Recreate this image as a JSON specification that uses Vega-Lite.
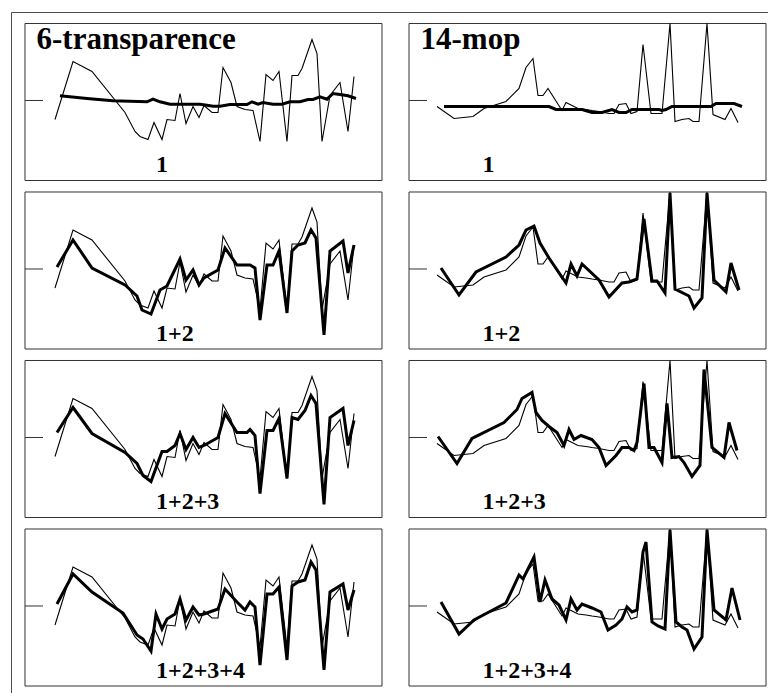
{
  "$schema": "https://vega.github.io/schema/vega-lite/v6.json",
  "width": 757,
  "height": 681,
  "autosize": {"type": "none"},
  "padding": {"left": 11, "top": 12, "right": 0, "bottom": 0},
  "background": "white",
  "config": {
    "view": {"stroke": null},
    "axis": {"labels": false, "ticks": false, "grid": false, "domainColor": "#4d4d4d", "domainWidth": 1}
  },
  "datasets": {
    "panels": [
      {"col": "6-transparence", "row": "1"},
      {"col": "6-transparence", "row": "1+2"},
      {"col": "6-transparence", "row": "1+2+3"},
      {"col": "6-transparence", "row": "1+2+3+4"},
      {"col": "14-mop", "row": "1"},
      {"col": "14-mop", "row": "1+2"},
      {"col": "14-mop", "row": "1+2+3"},
      {"col": "14-mop", "row": "1+2+3+4"}
    ],
    "thin": [
      {"col": "6-transparence", "x": 30, "v": -19},
      {"col": "6-transparence", "x": 48, "v": 39},
      {"col": "6-transparence", "x": 67, "v": 29},
      {"col": "6-transparence", "x": 100, "v": -12},
      {"col": "6-transparence", "x": 110, "v": -31},
      {"col": "6-transparence", "x": 115, "v": -36},
      {"col": "6-transparence", "x": 123, "v": -39},
      {"col": "6-transparence", "x": 129, "v": -22},
      {"col": "6-transparence", "x": 137, "v": -39},
      {"col": "6-transparence", "x": 142, "v": -19},
      {"col": "6-transparence", "x": 150, "v": -20},
      {"col": "6-transparence", "x": 155, "v": 7},
      {"col": "6-transparence", "x": 161, "v": -23},
      {"col": "6-transparence", "x": 168, "v": -6},
      {"col": "6-transparence", "x": 174, "v": -17},
      {"col": "6-transparence", "x": 179, "v": -5},
      {"col": "6-transparence", "x": 187, "v": -12},
      {"col": "6-transparence", "x": 193, "v": -12},
      {"col": "6-transparence", "x": 198, "v": 33},
      {"col": "6-transparence", "x": 206, "v": 18},
      {"col": "6-transparence", "x": 212, "v": -6},
      {"col": "6-transparence", "x": 220, "v": -9},
      {"col": "6-transparence", "x": 228, "v": -10},
      {"col": "6-transparence", "x": 235, "v": -41},
      {"col": "6-transparence", "x": 241, "v": 26},
      {"col": "6-transparence", "x": 248, "v": 20},
      {"col": "6-transparence", "x": 254, "v": 29},
      {"col": "6-transparence", "x": 262, "v": -41},
      {"col": "6-transparence", "x": 267, "v": 25},
      {"col": "6-transparence", "x": 273, "v": 25},
      {"col": "6-transparence", "x": 277, "v": 32},
      {"col": "6-transparence", "x": 287, "v": 61},
      {"col": "6-transparence", "x": 292, "v": 47},
      {"col": "6-transparence", "x": 297, "v": -41},
      {"col": "6-transparence", "x": 305, "v": 5},
      {"col": "6-transparence", "x": 315, "v": 18},
      {"col": "6-transparence", "x": 323, "v": -31},
      {"col": "6-transparence", "x": 329, "v": 24},
      {"col": "14-mop", "x": 28, "v": -6},
      {"col": "14-mop", "x": 45, "v": -18},
      {"col": "14-mop", "x": 64, "v": -16},
      {"col": "14-mop", "x": 75, "v": -8},
      {"col": "14-mop", "x": 97, "v": -1},
      {"col": "14-mop", "x": 110, "v": 12},
      {"col": "14-mop", "x": 117, "v": 33},
      {"col": "14-mop", "x": 124, "v": 42},
      {"col": "14-mop", "x": 129, "v": 5},
      {"col": "14-mop", "x": 134, "v": 5},
      {"col": "14-mop", "x": 139, "v": 12},
      {"col": "14-mop", "x": 153, "v": -10},
      {"col": "14-mop", "x": 157, "v": -2},
      {"col": "14-mop", "x": 169, "v": -8},
      {"col": "14-mop", "x": 177, "v": -9},
      {"col": "14-mop", "x": 183, "v": -10},
      {"col": "14-mop", "x": 190, "v": -11},
      {"col": "14-mop", "x": 200, "v": -13},
      {"col": "14-mop", "x": 205, "v": -13},
      {"col": "14-mop", "x": 210, "v": -4},
      {"col": "14-mop", "x": 217, "v": -3},
      {"col": "14-mop", "x": 222, "v": -13},
      {"col": "14-mop", "x": 228, "v": -11},
      {"col": "14-mop", "x": 234, "v": 56},
      {"col": "14-mop", "x": 242, "v": -13},
      {"col": "14-mop", "x": 253, "v": -13},
      {"col": "14-mop", "x": 261, "v": 77},
      {"col": "14-mop", "x": 266, "v": -21},
      {"col": "14-mop", "x": 273, "v": -19},
      {"col": "14-mop", "x": 280, "v": -18},
      {"col": "14-mop", "x": 284, "v": -21},
      {"col": "14-mop", "x": 290, "v": -21},
      {"col": "14-mop", "x": 298, "v": 77},
      {"col": "14-mop", "x": 304, "v": -14},
      {"col": "14-mop", "x": 316, "v": -19},
      {"col": "14-mop", "x": 322, "v": -8},
      {"col": "14-mop", "x": 329, "v": -22}
    ],
    "thick": [
      {"col": "6-transparence", "row": "1", "x": 35, "v": 4.7},
      {"col": "6-transparence", "row": "1", "x": 62, "v": 2},
      {"col": "6-transparence", "row": "1", "x": 88, "v": -0.3},
      {"col": "6-transparence", "row": "1", "x": 122, "v": -1.3},
      {"col": "6-transparence", "row": "1", "x": 128, "v": 1.3},
      {"col": "6-transparence", "row": "1", "x": 135, "v": -1.3},
      {"col": "6-transparence", "row": "1", "x": 145, "v": -3.7},
      {"col": "6-transparence", "row": "1", "x": 162, "v": -3.7},
      {"col": "6-transparence", "row": "1", "x": 175, "v": -3.7},
      {"col": "6-transparence", "row": "1", "x": 182, "v": -4.7},
      {"col": "6-transparence", "row": "1", "x": 188, "v": -5.7},
      {"col": "6-transparence", "row": "1", "x": 195, "v": -5.7},
      {"col": "6-transparence", "row": "1", "x": 205, "v": -4},
      {"col": "6-transparence", "row": "1", "x": 222, "v": -4},
      {"col": "6-transparence", "row": "1", "x": 227, "v": -1.3},
      {"col": "6-transparence", "row": "1", "x": 233, "v": -3.7},
      {"col": "6-transparence", "row": "1", "x": 238, "v": -2},
      {"col": "6-transparence", "row": "1", "x": 248, "v": -3.7},
      {"col": "6-transparence", "row": "1", "x": 257, "v": -3.7},
      {"col": "6-transparence", "row": "1", "x": 265, "v": -1.3},
      {"col": "6-transparence", "row": "1", "x": 275, "v": -1.3},
      {"col": "6-transparence", "row": "1", "x": 283, "v": 1},
      {"col": "6-transparence", "row": "1", "x": 288, "v": 1},
      {"col": "6-transparence", "row": "1", "x": 295, "v": 3.7},
      {"col": "6-transparence", "row": "1", "x": 302, "v": 1.3},
      {"col": "6-transparence", "row": "1", "x": 308, "v": 7},
      {"col": "6-transparence", "row": "1", "x": 315, "v": 6},
      {"col": "6-transparence", "row": "1", "x": 323, "v": 4.7},
      {"col": "6-transparence", "row": "1", "x": 331, "v": 2},

      {"col": "6-transparence", "row": "1+2", "x": 32, "v": 2},
      {"col": "6-transparence", "row": "1+2", "x": 48, "v": 29},
      {"col": "6-transparence", "row": "1+2", "x": 67, "v": 1},
      {"col": "6-transparence", "row": "1+2", "x": 100, "v": -16},
      {"col": "6-transparence", "row": "1+2", "x": 112, "v": -27},
      {"col": "6-transparence", "row": "1+2", "x": 117, "v": -41},
      {"col": "6-transparence", "row": "1+2", "x": 126, "v": -45},
      {"col": "6-transparence", "row": "1+2", "x": 135, "v": -21},
      {"col": "6-transparence", "row": "1+2", "x": 142, "v": -17},
      {"col": "6-transparence", "row": "1+2", "x": 155, "v": 10},
      {"col": "6-transparence", "row": "1+2", "x": 161, "v": -11},
      {"col": "6-transparence", "row": "1+2", "x": 168, "v": -1},
      {"col": "6-transparence", "row": "1+2", "x": 174, "v": -16},
      {"col": "6-transparence", "row": "1+2", "x": 179, "v": -9},
      {"col": "6-transparence", "row": "1+2", "x": 193, "v": -1},
      {"col": "6-transparence", "row": "1+2", "x": 200, "v": 21},
      {"col": "6-transparence", "row": "1+2", "x": 212, "v": 4},
      {"col": "6-transparence", "row": "1+2", "x": 225, "v": 4},
      {"col": "6-transparence", "row": "1+2", "x": 230, "v": 1},
      {"col": "6-transparence", "row": "1+2", "x": 235, "v": -51},
      {"col": "6-transparence", "row": "1+2", "x": 242, "v": 4},
      {"col": "6-transparence", "row": "1+2", "x": 248, "v": 4},
      {"col": "6-transparence", "row": "1+2", "x": 254, "v": 18},
      {"col": "6-transparence", "row": "1+2", "x": 262, "v": -44},
      {"col": "6-transparence", "row": "1+2", "x": 267, "v": 18},
      {"col": "6-transparence", "row": "1+2", "x": 273, "v": 24},
      {"col": "6-transparence", "row": "1+2", "x": 280, "v": 26},
      {"col": "6-transparence", "row": "1+2", "x": 286, "v": 39},
      {"col": "6-transparence", "row": "1+2", "x": 291, "v": 31},
      {"col": "6-transparence", "row": "1+2", "x": 299, "v": -66},
      {"col": "6-transparence", "row": "1+2", "x": 305, "v": 18},
      {"col": "6-transparence", "row": "1+2", "x": 318, "v": 28},
      {"col": "6-transparence", "row": "1+2", "x": 323, "v": -4},
      {"col": "6-transparence", "row": "1+2", "x": 329, "v": 24},

      {"col": "6-transparence", "row": "1+2+3", "x": 32, "v": 5},
      {"col": "6-transparence", "row": "1+2+3", "x": 48, "v": 30},
      {"col": "6-transparence", "row": "1+2+3", "x": 67, "v": 4},
      {"col": "6-transparence", "row": "1+2+3", "x": 100, "v": -15},
      {"col": "6-transparence", "row": "1+2+3", "x": 112, "v": -26},
      {"col": "6-transparence", "row": "1+2+3", "x": 118, "v": -38},
      {"col": "6-transparence", "row": "1+2+3", "x": 126, "v": -44},
      {"col": "6-transparence", "row": "1+2+3", "x": 137, "v": -14},
      {"col": "6-transparence", "row": "1+2+3", "x": 142, "v": -14},
      {"col": "6-transparence", "row": "1+2+3", "x": 150, "v": -8},
      {"col": "6-transparence", "row": "1+2+3", "x": 155, "v": 4},
      {"col": "6-transparence", "row": "1+2+3", "x": 161, "v": -12},
      {"col": "6-transparence", "row": "1+2+3", "x": 168, "v": 0},
      {"col": "6-transparence", "row": "1+2+3", "x": 174, "v": -10},
      {"col": "6-transparence", "row": "1+2+3", "x": 179, "v": -8},
      {"col": "6-transparence", "row": "1+2+3", "x": 193, "v": 0},
      {"col": "6-transparence", "row": "1+2+3", "x": 200, "v": 24},
      {"col": "6-transparence", "row": "1+2+3", "x": 212, "v": 5},
      {"col": "6-transparence", "row": "1+2+3", "x": 222, "v": 5},
      {"col": "6-transparence", "row": "1+2+3", "x": 225, "v": 8},
      {"col": "6-transparence", "row": "1+2+3", "x": 230, "v": 2},
      {"col": "6-transparence", "row": "1+2+3", "x": 235, "v": -56},
      {"col": "6-transparence", "row": "1+2+3", "x": 242, "v": 7},
      {"col": "6-transparence", "row": "1+2+3", "x": 248, "v": 7},
      {"col": "6-transparence", "row": "1+2+3", "x": 254, "v": 19},
      {"col": "6-transparence", "row": "1+2+3", "x": 262, "v": -41},
      {"col": "6-transparence", "row": "1+2+3", "x": 267, "v": 20},
      {"col": "6-transparence", "row": "1+2+3", "x": 273, "v": 18},
      {"col": "6-transparence", "row": "1+2+3", "x": 280, "v": 27},
      {"col": "6-transparence", "row": "1+2+3", "x": 286, "v": 42},
      {"col": "6-transparence", "row": "1+2+3", "x": 291, "v": 34},
      {"col": "6-transparence", "row": "1+2+3", "x": 299, "v": -67},
      {"col": "6-transparence", "row": "1+2+3", "x": 305, "v": 20},
      {"col": "6-transparence", "row": "1+2+3", "x": 318, "v": 29},
      {"col": "6-transparence", "row": "1+2+3", "x": 323, "v": -8},
      {"col": "6-transparence", "row": "1+2+3", "x": 329, "v": 17},

      {"col": "6-transparence", "row": "1+2+3+4", "x": 32, "v": 2},
      {"col": "6-transparence", "row": "1+2+3+4", "x": 48, "v": 32},
      {"col": "6-transparence", "row": "1+2+3+4", "x": 67, "v": 14},
      {"col": "6-transparence", "row": "1+2+3+4", "x": 98, "v": -7},
      {"col": "6-transparence", "row": "1+2+3+4", "x": 112, "v": -29},
      {"col": "6-transparence", "row": "1+2+3+4", "x": 118, "v": -33},
      {"col": "6-transparence", "row": "1+2+3+4", "x": 126, "v": -45},
      {"col": "6-transparence", "row": "1+2+3+4", "x": 131, "v": -8},
      {"col": "6-transparence", "row": "1+2+3+4", "x": 137, "v": -23},
      {"col": "6-transparence", "row": "1+2+3+4", "x": 142, "v": -13},
      {"col": "6-transparence", "row": "1+2+3+4", "x": 150, "v": -8},
      {"col": "6-transparence", "row": "1+2+3+4", "x": 155, "v": 7},
      {"col": "6-transparence", "row": "1+2+3+4", "x": 161, "v": -14},
      {"col": "6-transparence", "row": "1+2+3+4", "x": 168, "v": -1},
      {"col": "6-transparence", "row": "1+2+3+4", "x": 174, "v": -9},
      {"col": "6-transparence", "row": "1+2+3+4", "x": 179, "v": -8},
      {"col": "6-transparence", "row": "1+2+3+4", "x": 193, "v": -3},
      {"col": "6-transparence", "row": "1+2+3+4", "x": 200, "v": 17},
      {"col": "6-transparence", "row": "1+2+3+4", "x": 212, "v": 4},
      {"col": "6-transparence", "row": "1+2+3+4", "x": 220, "v": -4},
      {"col": "6-transparence", "row": "1+2+3+4", "x": 225, "v": 4},
      {"col": "6-transparence", "row": "1+2+3+4", "x": 230, "v": -1},
      {"col": "6-transparence", "row": "1+2+3+4", "x": 235, "v": -59},
      {"col": "6-transparence", "row": "1+2+3+4", "x": 242, "v": 12},
      {"col": "6-transparence", "row": "1+2+3+4", "x": 248, "v": 12},
      {"col": "6-transparence", "row": "1+2+3+4", "x": 254, "v": 19},
      {"col": "6-transparence", "row": "1+2+3+4", "x": 262, "v": -54},
      {"col": "6-transparence", "row": "1+2+3+4", "x": 267, "v": 20},
      {"col": "6-transparence", "row": "1+2+3+4", "x": 273, "v": 24},
      {"col": "6-transparence", "row": "1+2+3+4", "x": 280, "v": 26},
      {"col": "6-transparence", "row": "1+2+3+4", "x": 286, "v": 44},
      {"col": "6-transparence", "row": "1+2+3+4", "x": 291, "v": 36},
      {"col": "6-transparence", "row": "1+2+3+4", "x": 299, "v": -64},
      {"col": "6-transparence", "row": "1+2+3+4", "x": 305, "v": 14},
      {"col": "6-transparence", "row": "1+2+3+4", "x": 318, "v": 22},
      {"col": "6-transparence", "row": "1+2+3+4", "x": 323, "v": -4},
      {"col": "6-transparence", "row": "1+2+3+4", "x": 329, "v": 16},

      {"col": "14-mop", "row": "1", "x": 35, "v": -6},
      {"col": "14-mop", "row": "1", "x": 140, "v": -6},
      {"col": "14-mop", "row": "1", "x": 147, "v": -9},
      {"col": "14-mop", "row": "1", "x": 173, "v": -9},
      {"col": "14-mop", "row": "1", "x": 183, "v": -12},
      {"col": "14-mop", "row": "1", "x": 193, "v": -12},
      {"col": "14-mop", "row": "1", "x": 203, "v": -9},
      {"col": "14-mop", "row": "1", "x": 210, "v": -12},
      {"col": "14-mop", "row": "1", "x": 217, "v": -12},
      {"col": "14-mop", "row": "1", "x": 223, "v": -9},
      {"col": "14-mop", "row": "1", "x": 250, "v": -9},
      {"col": "14-mop", "row": "1", "x": 253, "v": -10},
      {"col": "14-mop", "row": "1", "x": 257, "v": -9},
      {"col": "14-mop", "row": "1", "x": 263, "v": -6},
      {"col": "14-mop", "row": "1", "x": 302, "v": -6},
      {"col": "14-mop", "row": "1", "x": 307, "v": -3},
      {"col": "14-mop", "row": "1", "x": 325, "v": -3},
      {"col": "14-mop", "row": "1", "x": 333, "v": -6},

      {"col": "14-mop", "row": "1+2", "x": 32, "v": 1},
      {"col": "14-mop", "row": "1+2", "x": 50, "v": -26},
      {"col": "14-mop", "row": "1+2", "x": 67, "v": -3},
      {"col": "14-mop", "row": "1+2", "x": 97, "v": 12},
      {"col": "14-mop", "row": "1+2", "x": 110, "v": 24},
      {"col": "14-mop", "row": "1+2", "x": 117, "v": 39},
      {"col": "14-mop", "row": "1+2", "x": 125, "v": 43},
      {"col": "14-mop", "row": "1+2", "x": 131, "v": 26},
      {"col": "14-mop", "row": "1+2", "x": 140, "v": 11},
      {"col": "14-mop", "row": "1+2", "x": 157, "v": -14},
      {"col": "14-mop", "row": "1+2", "x": 162, "v": 5},
      {"col": "14-mop", "row": "1+2", "x": 168, "v": -7},
      {"col": "14-mop", "row": "1+2", "x": 173, "v": 5},
      {"col": "14-mop", "row": "1+2", "x": 190, "v": -11},
      {"col": "14-mop", "row": "1+2", "x": 200, "v": -28},
      {"col": "14-mop", "row": "1+2", "x": 213, "v": -14},
      {"col": "14-mop", "row": "1+2", "x": 220, "v": -13},
      {"col": "14-mop", "row": "1+2", "x": 228, "v": -10},
      {"col": "14-mop", "row": "1+2", "x": 235, "v": 50},
      {"col": "14-mop", "row": "1+2", "x": 243, "v": -12},
      {"col": "14-mop", "row": "1+2", "x": 248, "v": -12},
      {"col": "14-mop", "row": "1+2", "x": 256, "v": -24},
      {"col": "14-mop", "row": "1+2", "x": 261, "v": 76},
      {"col": "14-mop", "row": "1+2", "x": 266, "v": -20},
      {"col": "14-mop", "row": "1+2", "x": 280, "v": -27},
      {"col": "14-mop", "row": "1+2", "x": 285, "v": -39},
      {"col": "14-mop", "row": "1+2", "x": 293, "v": -29},
      {"col": "14-mop", "row": "1+2", "x": 298, "v": 76},
      {"col": "14-mop", "row": "1+2", "x": 305, "v": -11},
      {"col": "14-mop", "row": "1+2", "x": 317, "v": -23},
      {"col": "14-mop", "row": "1+2", "x": 322, "v": 6},
      {"col": "14-mop", "row": "1+2", "x": 330, "v": -21},

      {"col": "14-mop", "row": "1+2+3", "x": 29, "v": 1},
      {"col": "14-mop", "row": "1+2+3", "x": 48, "v": -26},
      {"col": "14-mop", "row": "1+2+3", "x": 63, "v": -1},
      {"col": "14-mop", "row": "1+2+3", "x": 95, "v": 15},
      {"col": "14-mop", "row": "1+2+3", "x": 108, "v": 28},
      {"col": "14-mop", "row": "1+2+3", "x": 113, "v": 39},
      {"col": "14-mop", "row": "1+2+3", "x": 123, "v": 45},
      {"col": "14-mop", "row": "1+2+3", "x": 127, "v": 25},
      {"col": "14-mop", "row": "1+2+3", "x": 133, "v": 17},
      {"col": "14-mop", "row": "1+2+3", "x": 140, "v": 11},
      {"col": "14-mop", "row": "1+2+3", "x": 148, "v": 5},
      {"col": "14-mop", "row": "1+2+3", "x": 155, "v": -8},
      {"col": "14-mop", "row": "1+2+3", "x": 160, "v": 8},
      {"col": "14-mop", "row": "1+2+3", "x": 165, "v": -2},
      {"col": "14-mop", "row": "1+2+3", "x": 172, "v": 2},
      {"col": "14-mop", "row": "1+2+3", "x": 183, "v": -2},
      {"col": "14-mop", "row": "1+2+3", "x": 190, "v": -10},
      {"col": "14-mop", "row": "1+2+3", "x": 197, "v": -28},
      {"col": "14-mop", "row": "1+2+3", "x": 207, "v": -18},
      {"col": "14-mop", "row": "1+2+3", "x": 213, "v": -10},
      {"col": "14-mop", "row": "1+2+3", "x": 220, "v": -10},
      {"col": "14-mop", "row": "1+2+3", "x": 225, "v": -13},
      {"col": "14-mop", "row": "1+2+3", "x": 228, "v": -5},
      {"col": "14-mop", "row": "1+2+3", "x": 235, "v": 54},
      {"col": "14-mop", "row": "1+2+3", "x": 240, "v": -10},
      {"col": "14-mop", "row": "1+2+3", "x": 245, "v": -10},
      {"col": "14-mop", "row": "1+2+3", "x": 253, "v": -25},
      {"col": "14-mop", "row": "1+2+3", "x": 258, "v": 34},
      {"col": "14-mop", "row": "1+2+3", "x": 263, "v": -20},
      {"col": "14-mop", "row": "1+2+3", "x": 270, "v": -19},
      {"col": "14-mop", "row": "1+2+3", "x": 275, "v": -25},
      {"col": "14-mop", "row": "1+2+3", "x": 283, "v": -39},
      {"col": "14-mop", "row": "1+2+3", "x": 291, "v": -28},
      {"col": "14-mop", "row": "1+2+3", "x": 295, "v": 68},
      {"col": "14-mop", "row": "1+2+3", "x": 303, "v": -10},
      {"col": "14-mop", "row": "1+2+3", "x": 315, "v": -20},
      {"col": "14-mop", "row": "1+2+3", "x": 320, "v": 15},
      {"col": "14-mop", "row": "1+2+3", "x": 328, "v": -13},

      {"col": "14-mop", "row": "1+2+3+4", "x": 32, "v": 4},
      {"col": "14-mop", "row": "1+2+3+4", "x": 50, "v": -28},
      {"col": "14-mop", "row": "1+2+3+4", "x": 65, "v": -14},
      {"col": "14-mop", "row": "1+2+3+4", "x": 97, "v": 3},
      {"col": "14-mop", "row": "1+2+3+4", "x": 110, "v": 31},
      {"col": "14-mop", "row": "1+2+3+4", "x": 114, "v": 27},
      {"col": "14-mop", "row": "1+2+3+4", "x": 119, "v": 37},
      {"col": "14-mop", "row": "1+2+3+4", "x": 125, "v": 49},
      {"col": "14-mop", "row": "1+2+3+4", "x": 131, "v": 4},
      {"col": "14-mop", "row": "1+2+3+4", "x": 136, "v": 26},
      {"col": "14-mop", "row": "1+2+3+4", "x": 143, "v": 7},
      {"col": "14-mop", "row": "1+2+3+4", "x": 150, "v": 1},
      {"col": "14-mop", "row": "1+2+3+4", "x": 157, "v": -14},
      {"col": "14-mop", "row": "1+2+3+4", "x": 162, "v": 7},
      {"col": "14-mop", "row": "1+2+3+4", "x": 168, "v": -4},
      {"col": "14-mop", "row": "1+2+3+4", "x": 173, "v": 2},
      {"col": "14-mop", "row": "1+2+3+4", "x": 183, "v": -2},
      {"col": "14-mop", "row": "1+2+3+4", "x": 192, "v": -6},
      {"col": "14-mop", "row": "1+2+3+4", "x": 199, "v": -24},
      {"col": "14-mop", "row": "1+2+3+4", "x": 207, "v": -19},
      {"col": "14-mop", "row": "1+2+3+4", "x": 213, "v": -13},
      {"col": "14-mop", "row": "1+2+3+4", "x": 218, "v": -1},
      {"col": "14-mop", "row": "1+2+3+4", "x": 223, "v": -6},
      {"col": "14-mop", "row": "1+2+3+4", "x": 228, "v": -4},
      {"col": "14-mop", "row": "1+2+3+4", "x": 234, "v": 54},
      {"col": "14-mop", "row": "1+2+3+4", "x": 237, "v": 64},
      {"col": "14-mop", "row": "1+2+3+4", "x": 243, "v": -16},
      {"col": "14-mop", "row": "1+2+3+4", "x": 249, "v": -20},
      {"col": "14-mop", "row": "1+2+3+4", "x": 256, "v": -23},
      {"col": "14-mop", "row": "1+2+3+4", "x": 261, "v": 76},
      {"col": "14-mop", "row": "1+2+3+4", "x": 267, "v": -16},
      {"col": "14-mop", "row": "1+2+3+4", "x": 273, "v": -21},
      {"col": "14-mop", "row": "1+2+3+4", "x": 278, "v": -24},
      {"col": "14-mop", "row": "1+2+3+4", "x": 285, "v": -43},
      {"col": "14-mop", "row": "1+2+3+4", "x": 293, "v": -31},
      {"col": "14-mop", "row": "1+2+3+4", "x": 298, "v": 76},
      {"col": "14-mop", "row": "1+2+3+4", "x": 305, "v": -4},
      {"col": "14-mop", "row": "1+2+3+4", "x": 317, "v": -14},
      {"col": "14-mop", "row": "1+2+3+4", "x": 323, "v": 18},
      {"col": "14-mop", "row": "1+2+3+4", "x": 331, "v": -14}
    ]
  },
  "layer": [
    {
      "data": {"name": "panels"},
      "mark": {"type": "point", "shape": "M-1,-0.43978L1,-0.43978L1,0.43978L-1,0.43978Z", "size": 127449, "filled": false, "stroke": "#333333", "strokeWidth": 1, "opacity": 1},
      "encoding": {
        "x": {"field": "col", "type": "nominal", "title": null, "axis": {"orient": "top"},
              "scale": {"domain": ["6-transparence", "14-mop"], "paddingInner": 0.0703125, "paddingOuter": 0.020833, "align": 0.875}},
        "y": {"field": "row", "type": "nominal", "title": null, "axis": {"orient": "left"},
              "scale": {"domain": ["1", "1+2", "1+2+3", "1+2+3+4"], "paddingInner": 0.06825, "paddingOuter": 0.054896, "align": 0.6216}},
        "xOffset": {"datum": 178.5, "type": "quantitative"},
        "yOffset": {"datum": -1.5, "type": "quantitative"}
      }
    },
    {
      "data": {"name": "panels"},
      "mark": {"type": "point", "shape": "M-1,0L1,0", "size": 324, "filled": false, "stroke": "#333333", "strokeWidth": 1, "opacity": 1},
      "encoding": {
        "x": {"field": "col", "type": "nominal", "title": null, "axis": {"orient": "top"}},
        "y": {"field": "row", "type": "nominal", "title": null, "axis": {"orient": "left"}},
        "xOffset": {"datum": 9, "type": "quantitative"},
        "yOffset": {"datum": 0, "type": "quantitative"}
      }
    },
    {
      "data": {"name": "thin"},
      "mark": {"type": "line", "stroke": "black", "strokeWidth": 1.1},
      "encoding": {
        "x": {"field": "col", "type": "nominal", "title": null, "axis": {"orient": "top"}},
        "y": {"datum": "1", "type": "nominal", "title": null, "axis": {"orient": "left"}},
        "xOffset": {"field": "x", "type": "quantitative", "scale": {"domain": [0, 357], "nice": false, "zero": false}},
        "yOffset": {"field": "v", "type": "quantitative", "scale": {"domain": [77, -80], "nice": false, "zero": false}},
        "detail": {"field": "col"},
        "order": {"field": "x"}
      }
    },
    {
      "data": {"name": "thin"},
      "mark": {"type": "line", "stroke": "black", "strokeWidth": 1.1},
      "encoding": {
        "x": {"field": "col", "type": "nominal", "title": null, "axis": {"orient": "top"}},
        "y": {"datum": "1+2", "type": "nominal", "title": null, "axis": {"orient": "left"}},
        "xOffset": {"field": "x", "type": "quantitative"},
        "yOffset": {"field": "v", "type": "quantitative"},
        "detail": {"field": "col"},
        "order": {"field": "x"}
      }
    },
    {
      "data": {"name": "thin"},
      "mark": {"type": "line", "stroke": "black", "strokeWidth": 1.1},
      "encoding": {
        "x": {"field": "col", "type": "nominal", "title": null, "axis": {"orient": "top"}},
        "y": {"datum": "1+2+3", "type": "nominal", "title": null, "axis": {"orient": "left"}},
        "xOffset": {"field": "x", "type": "quantitative"},
        "yOffset": {"field": "v", "type": "quantitative"},
        "detail": {"field": "col"},
        "order": {"field": "x"}
      }
    },
    {
      "data": {"name": "thin"},
      "mark": {"type": "line", "stroke": "black", "strokeWidth": 1.1},
      "encoding": {
        "x": {"field": "col", "type": "nominal", "title": null, "axis": {"orient": "top"}},
        "y": {"datum": "1+2+3+4", "type": "nominal", "title": null, "axis": {"orient": "left"}},
        "xOffset": {"field": "x", "type": "quantitative"},
        "yOffset": {"field": "v", "type": "quantitative"},
        "detail": {"field": "col"},
        "order": {"field": "x"}
      }
    },
    {
      "data": {"name": "thick"},
      "mark": {"type": "line", "stroke": "black", "strokeWidth": 3, "strokeMiterLimit": 4},
      "encoding": {
        "x": {"field": "col", "type": "nominal", "title": null, "axis": {"orient": "top"}},
        "y": {"field": "row", "type": "nominal", "title": null, "axis": {"orient": "left"}},
        "xOffset": {"field": "x", "type": "quantitative"},
        "yOffset": {"field": "v", "type": "quantitative"},
        "detail": [{"field": "col"}, {"field": "row"}],
        "order": {"field": "x"}
      }
    },
    {
      "data": {"name": "panels"},
      "transform": [{"filter": "datum.row === '1'"}],
      "mark": {"type": "text", "align": "left", "baseline": "alphabetic", "font": "Liberation Serif", "fontWeight": "bold", "fontSize": 31, "color": "black"},
      "encoding": {
        "x": {"field": "col", "type": "nominal", "title": null, "axis": {"orient": "top"}},
        "y": {"field": "row", "type": "nominal", "title": null, "axis": {"orient": "left"}},
        "xOffset": {"datum": 11.5, "type": "quantitative"},
        "yOffset": {"datum": 51, "type": "quantitative"},
        "text": {"field": "col"}
      }
    },
    {
      "data": {"name": "panels"},
      "transform": [{"filter": "datum.col === '6-transparence'"}],
      "mark": {"type": "text", "align": "left", "baseline": "alphabetic", "font": "Liberation Serif", "fontWeight": "bold", "fontSize": 24, "color": "black"},
      "encoding": {
        "x": {"field": "col", "type": "nominal", "title": null, "axis": {"orient": "top"}},
        "y": {"field": "row", "type": "nominal", "title": null, "axis": {"orient": "left"}},
        "xOffset": {"datum": 131, "type": "quantitative"},
        "yOffset": {"datum": -72, "type": "quantitative"},
        "text": {"field": "row"}
      }
    },
    {
      "data": {"name": "panels"},
      "transform": [{"filter": "datum.col === '14-mop'"}],
      "mark": {"type": "text", "align": "left", "baseline": "alphabetic", "font": "Liberation Serif", "fontWeight": "bold", "fontSize": 24, "color": "black"},
      "encoding": {
        "x": {"field": "col", "type": "nominal", "title": null, "axis": {"orient": "top"}},
        "y": {"field": "row", "type": "nominal", "title": null, "axis": {"orient": "left"}},
        "xOffset": {"datum": 73.5, "type": "quantitative"},
        "yOffset": {"datum": -72, "type": "quantitative"},
        "text": {"field": "row"}
      }
    }
  ]
}
